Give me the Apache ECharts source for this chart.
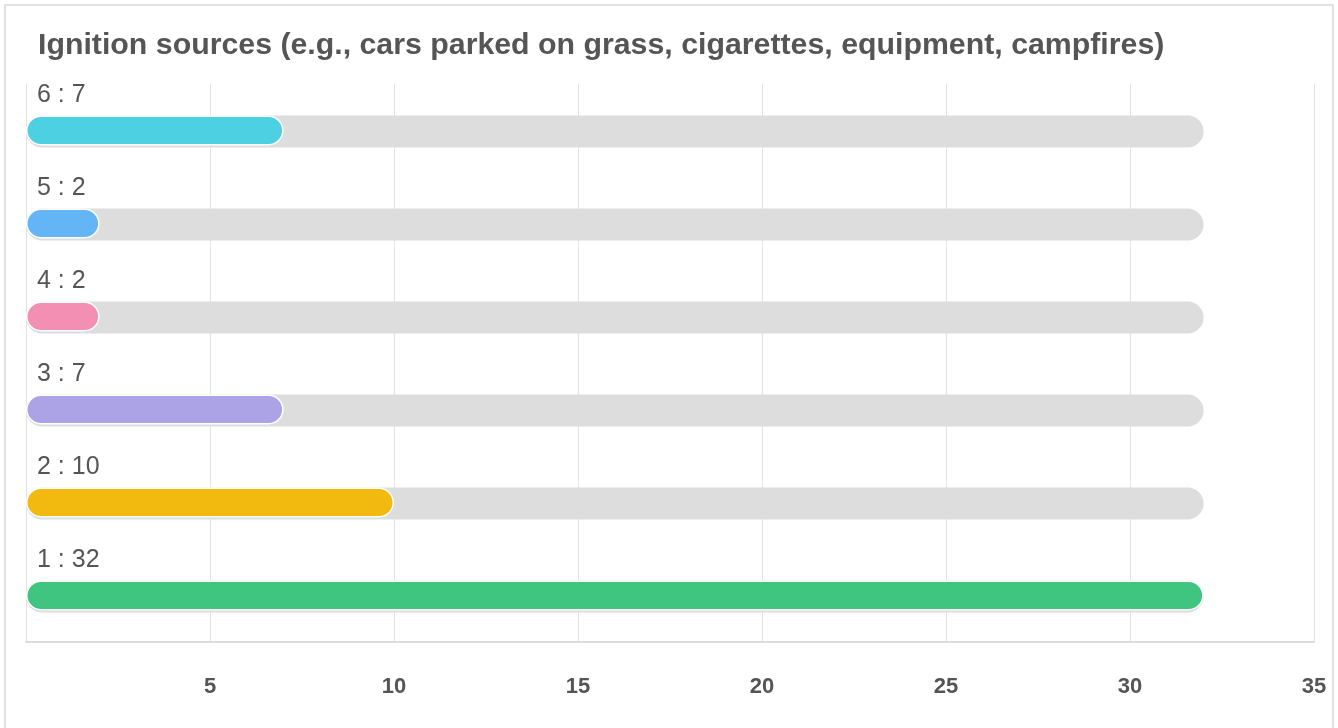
<!DOCTYPE html>
<html>
<head>
<meta charset="utf-8">
<script src="https://cdn.jsdelivr.net/npm/echarts@6/dist/echarts.min.js"></script>
<style>
  html, body { margin: 0; padding: 0; background: #fff; }
  #frame { position: absolute; left: 4px; top: 4px; width: 1330px; height: 730px; border: 2px solid #e2e2e2; box-sizing: border-box; }
  #chart { position: absolute; left: 0; top: 0; width: 1338px; height: 728px; }
</style>
</head>
<body>
<div id="frame"></div>
<div id="chart"></div>
<script>
const titleText = 'Ignition sources (e.g., cars parked on grass, cigarettes, equipment, campfires)';
const categories = ['1', '2', '3', '4', '5', '6'];
const values = [32, 10, 7, 2, 2, 7];
const barColors = ['#40c580', '#f2b90f', '#aca3e6', '#f48fb4', '#64b5f6', '#4dd0e2'];
const axisMax = 35;
const axisInterval = 5;

const trackValues = values.map(() => Math.max(...values));

const chart = echarts.init(document.getElementById('chart'), null, { renderer: 'canvas' });
chart.setOption({
  animation: false,
  title: {
    text: titleText,
    left: 33, top: 26,
    textStyle: { fontFamily: 'Liberation Sans, Arial, sans-serif', fontSize: 30.3, fontWeight: 'bold', color: '#555' }
  },
  grid: { left: 26, right: 24, top: 84, bottom: 86, containLabel: false },
  xAxis: {
    type: 'value', min: 0, max: axisMax, interval: axisInterval,
    axisLine: { show: true, lineStyle: { color: '#dcdcdc', width: 2 } },
    axisTick: { show: false },
    splitLine: { show: true, lineStyle: { color: '#e3e3e3', width: 1 } },
    axisLabel: {
      margin: 34, fontSize: 22, fontWeight: 'bold', color: '#555',
      fontFamily: 'Liberation Sans, Arial, sans-serif',
      formatter: v => v === 0 ? '' : String(v)
    }
  },
  yAxis: {
    type: 'category', data: categories,
    axisLine: { show: false }, axisTick: { show: false }, axisLabel: { show: false },
    splitLine: { show: false }
  },
  series: [
    {
      type: 'bar', data: trackValues, barWidth: 32, barGap: '-100%', z: 1,
      itemStyle: { color: '#dddddd', borderRadius: 16 },
      silent: true
    },
    {
      type: 'bar', barWidth: 30, z: 2,
      data: values.map((v, i) => ({ value: v, itemStyle: { color: barColors[i] } })),
      itemStyle: { borderRadius: 15, borderColor: '#fff', borderWidth: 1.5 },
      label: {
        show: true, position: [11, -33], formatter: p => p.name + ' : ' + p.value,
        fontSize: 25, color: '#555', fontFamily: 'Liberation Sans, Arial, sans-serif', align: 'left'
      }
    }
  ]
});
</script>
</body>
</html>
